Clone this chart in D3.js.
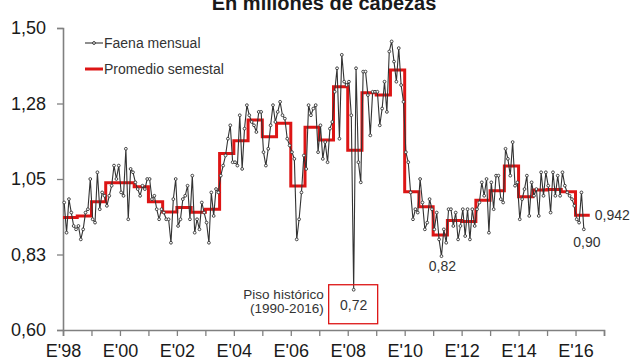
<!DOCTYPE html>
<html><head><meta charset="utf-8">
<script src="https://cdn.jsdelivr.net/npm/d3@7/dist/d3.min.js"></script>
<style>
body{margin:0;background:#fff}
svg{display:block}
text{font-family:"Liberation Sans",Arial,sans-serif}
</style>
</head><body>
<svg id="chart" width="640" height="360"></svg>
<script>
// ---- data ----
const title = "En millones de cabezas";
const startYear = 1998;
// Faena mensual (millones de cabezas), Jan 1998 .. Apr 2016
const faena = [
  0.98,0.89,0.99,0.95,0.91,0.90,0.91,0.87,0.90,0.95,0.96,1.05, // 1998
  0.93,0.92,1.07,0.96,1.01,1.00,0.97,1.00,1.03,1.09,1.05,1.09, // 1999
  1.01,1.00,1.14,0.93,1.08,1.07,1.04,1.02,1.00,1.03,1.02,1.05, // 2000
  1.05,0.99,1.00,0.96,0.93,0.96,0.95,0.93,0.93,0.86,0.99,1.05, // 2001
  0.91,0.93,0.99,1.00,1.03,0.93,1.06,0.89,0.93,0.90,0.98,0.95, // 2002
  0.92,0.86,1.01,0.94,1.02,1.01,1.06,1.09,1.12,1.17,1.21,1.10, // 2003
  1.10,1.09,1.24,1.08,1.20,1.27,1.24,1.22,1.21,1.19,1.25,1.25, // 2004
  1.13,1.09,1.14,1.21,1.27,1.22,1.25,1.28,1.24,1.23,1.17,1.15, // 2005
  1.13,1.11,0.87,0.93,1.01,1.12,1.08,1.27,1.24,1.26,1.27,1.13, // 2006
  1.21,1.11,1.16,1.10,1.20,1.22,1.31,1.38,1.17,1.42,1.34,1.33, // 2007
  1.34,1.24,0.72,1.38,1.10,1.04,1.37,1.37,1.30,1.18,1.31,1.31, // 2008
  1.31,1.21,1.26,1.34,1.25,1.43,1.46,1.40,1.34,1.44,1.33,1.28, // 2009
  1.13,1.10,1.01,0.93,0.96,0.95,1.05,0.98,0.90,0.92,0.99,0.96, // 2010
  0.90,0.95,0.87,0.82,0.90,0.86,0.96,0.96,0.91,0.95,0.87,0.91, // 2011
  0.96,0.88,0.96,0.87,0.96,0.91,0.96,0.98,1.04,1.00,1.05,0.89, // 2012
  1.04,0.96,1.06,1.06,0.99,0.98,1.14,1.11,1.06,1.16,1.03,1.04, // 2013
  0.93,0.99,1.02,1.06,0.94,1.04,1.00,1.02,0.94,1.07,1.00,1.07, // 2014
  1.03,0.95,1.07,1.00,1.06,1.00,1.07,1.03,1.01,1.00,0.99,0.97, // 2015
  0.93,0.92,1.01,0.90                                          // 2016
];
// Promedio semestral, 1998 H1 .. 2016 H1
const promedio = [
  0.935,0.940, 0.982,1.039, 1.039,1.027, 0.982,0.952, 0.965,0.951,
  0.960,1.126, 1.164,1.226, 1.176,1.216, 1.029,1.204, 1.166,1.325,
  1.136,1.307, 1.300,1.375, 1.012,0.967, 0.883,0.926, 0.923,0.987,
  1.015,1.089, 0.997,1.017, 1.019,1.012, 0.942
];
const yTicks = [0.60, 0.825, 1.05, 1.275, 1.50];
const yTickLabels = ["0,60","0,83","1,05","1,28","1,50"];
const xTickYears = d3.range(1998, 2018);
const xLabelYears = [1998,2000,2002,2004,2006,2008,2010,2012,2014,2016];
const legendLabels = ["Faena mensual", "Promedio semestal"];
const annMin = {label:"0,72", note:["Piso histórico","(1990-2016)"]};
const annLow = {label:"0,82", value:0.82};
const annLast = {label:"0,90"};
const annSem = {label:"0,942"};

// ---- chart ----
const svg = d3.select("#chart");
const x = d3.scaleLinear().domain([1998, 2017]).range([63, 604]);
const y = d3.scaleLinear().domain([0.60, 1.50]).range([330, 28]);
const ink = "#1a1a1a", axisCol = "#808080", red = "#dd1515", lineCol = "#333333";

svg.append("text").attr("x", 324).attr("y", 10).attr("text-anchor","middle")
  .attr("font-size", 20).attr("font-weight","bold").attr("fill", ink).text(title);

// axes
const yAxis = d3.axisLeft(y).tickValues(yTicks)
  .tickFormat((d,i)=>yTickLabels[i]).tickSize(6).tickPadding(11);
const gy = svg.append("g").attr("transform","translate(63,0)").call(yAxis);
const xAxis = d3.axisBottom(x).tickValues(xTickYears)
  .tickFormat(d => xLabelYears.includes(d) ? "E'" + String(d).slice(2) : "")
  .tickSize(6).tickPadding(8);
const gx = svg.append("g").attr("transform","translate(0,330)").call(xAxis);
[gx, gy].forEach(g=>{
  g.select(".domain").attr("stroke", axisCol).attr("stroke-width", 1.6);
  g.selectAll(".tick line").attr("stroke", axisCol).attr("stroke-width", 1.3);
  g.selectAll(".tick text").attr("font-size", 18).attr("fill", ink)
    .attr("font-family", '"Liberation Sans",Arial,sans-serif');
});

// semester step line
const semPts = [];
promedio.forEach((v,i)=>{
  const s = startYear + i*0.5;
  semPts.push([s, v]); semPts.push([s+0.5, v]);
});
const line = d3.line().x(d=>x(d[0])).y(d=>y(d[1]));
svg.append("path").datum(semPts).attr("d", line)
  .attr("fill","none").attr("stroke", red).attr("stroke-width", 3)
  .attr("stroke-linejoin","miter");

// monthly line
const mPts = faena.map((v,i)=>[startYear + (i+0.5)/12, v]);
svg.append("path").datum(mPts).attr("d", line)
  .attr("fill","none").attr("stroke", lineCol).attr("stroke-width", 1.1);
svg.append("g").selectAll("circle").data(mPts).join("circle")
  .attr("cx", d=>x(d[0])).attr("cy", d=>y(d[1])).attr("r", 1.4)
  .attr("fill", "#fff").attr("stroke", lineCol).attr("stroke-width", 0.9);

// legend
const lg = svg.append("g");
lg.append("line").attr("x1",85).attr("x2",103).attr("y1",43).attr("y2",43)
  .attr("stroke", lineCol).attr("stroke-width",1.1);
lg.append("circle").attr("cx",94).attr("cy",43).attr("r",1.4).attr("fill","#fff").attr("stroke",lineCol);
lg.append("line").attr("x1",85).attr("x2",103).attr("y1",69).attr("y2",69)
  .attr("stroke", red).attr("stroke-width",3);
legendLabels.forEach((t,i)=>{
  lg.append("text").attr("x",104).attr("y", 43 + i*26).attr("dy","0.35em")
    .attr("font-size",14).attr("fill","#333").text(t);
});

// annotations
const ann = svg.append("g").attr("font-size",14).attr("fill","#333");
const minI = faena.indexOf(d3.min(faena));
const mx = x(mPts[minI][0]);
svg.append("rect").attr("x", mx-25).attr("y", y(faena[minI])-5).attr("width",49).attr("height",39)
  .attr("fill","none").attr("stroke", red).attr("stroke-width",1.3);
ann.append("text").attr("x", mx).attr("y", y(faena[minI])+15).attr("dy","0.35em")
  .attr("text-anchor","middle").text(annMin.label);
annMin.note.forEach((t,i)=>{
  ann.append("text").attr("x", mx-30).attr("y", y(faena[minI])+5 + i*13.5).attr("dy","0.35em")
    .attr("text-anchor","end").attr("font-size",13.5).text(t);
});
const lowI = faena.indexOf(annLow.value);
ann.append("text").attr("x", x(mPts[lowI][0])+1).attr("y", y(annLow.value)+10).attr("dy","0.35em")
  .attr("text-anchor","middle").text(annLow.label);
const lastI = faena.length-1;
ann.append("text").attr("x", x(mPts[lastI][0])+3).attr("y", y(faena[lastI])+13).attr("dy","0.35em")
  .attr("text-anchor","middle").text(annLast.label);
ann.append("text").attr("x", x(startYear + promedio.length*0.5)+5).attr("y", y(promedio[promedio.length-1])).attr("dy","0.35em")
  .attr("text-anchor","start").text(annSem.label);
</script>
</body></html>
